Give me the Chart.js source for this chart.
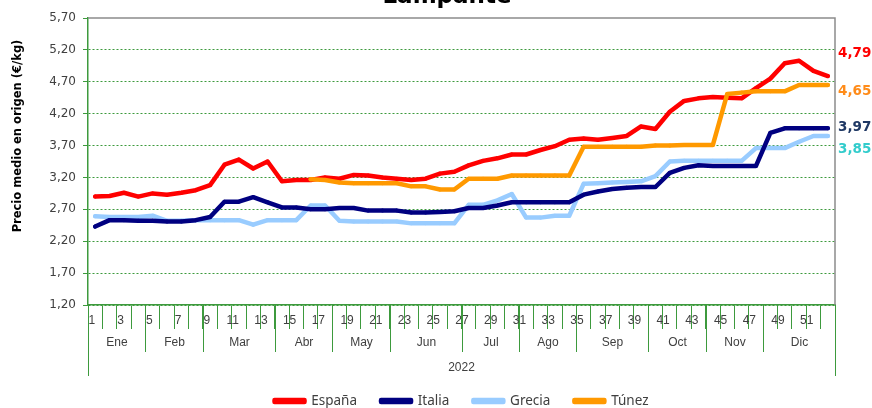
<!DOCTYPE html>
<html><head><meta charset="utf-8">
<script src="https://cdn.jsdelivr.net/npm/chart.js@4.4.1/dist/chart.umd.min.js"></script>
<style>html,body{margin:0;padding:0;background:#fff;overflow:hidden}#wrap{position:relative;width:872px;height:408px}</style>
</head><body><div id="wrap"><canvas id="c" width="872" height="408"></canvas></div>
<script>
const weeks = ['1','2','3','4','5','6','7','8','9','10','11','12','13','14','15','16','17','18','19','20','21','22','23','24','25','26','27','28','29','30','31','32','33','34','35','36','37','38','39','40','41','42','43','44','45','46','47','48','49','50','51','52'];
const months = ['Ene','Feb','Mar','Abr','May','Jun','Jul','Ago','Sep','Oct','Nov','Dic'];
const weeksPerMonth = [4,4,5,4,4,5,4,4,5,4,4,5];
const yearLabel = '2022';
const seriesNames = ['España','Italia','Grecia','Túnez'];
const espana = [2.90,2.91,2.96,2.90,2.95,2.93,2.96,3.00,3.08,3.40,3.48,3.34,3.45,3.14,3.16,3.16,3.20,3.18,3.24,3.23,3.20,3.18,3.16,3.18,3.26,3.29,3.39,3.46,3.50,3.56,3.56,3.63,3.69,3.79,3.81,3.79,3.82,3.85,4.00,3.96,4.23,4.40,4.44,4.46,4.45,4.44,4.60,4.75,4.99,5.03,4.87,4.79];
const italia = [2.43,2.53,2.53,2.52,2.52,2.51,2.51,2.53,2.58,2.82,2.82,2.89,2.81,2.73,2.73,2.70,2.70,2.72,2.72,2.68,2.68,2.68,2.65,2.65,2.66,2.67,2.72,2.72,2.76,2.81,2.81,2.81,2.81,2.81,2.93,2.98,3.02,3.04,3.05,3.05,3.27,3.35,3.39,3.38,3.38,3.38,3.38,3.90,3.97,3.97,3.97,3.97];
const grecia = [2.59,2.58,2.58,2.58,2.60,2.52,2.52,2.53,2.53,2.53,2.53,2.46,2.53,2.53,2.53,2.76,2.76,2.52,2.51,2.51,2.51,2.51,2.48,2.48,2.48,2.48,2.77,2.77,2.84,2.94,2.57,2.57,2.60,2.60,3.10,3.11,3.12,3.13,3.14,3.22,3.45,3.46,3.46,3.46,3.46,3.46,3.66,3.66,3.66,3.76,3.85,3.85];
const tunez = [null,null,null,null,null,null,null,null,null,null,null,null,null,null,null,3.17,3.16,3.12,3.11,3.11,3.11,3.11,3.06,3.06,3.01,3.01,3.18,3.18,3.18,3.23,3.23,3.23,3.23,3.23,3.68,3.68,3.68,3.68,3.68,3.70,3.70,3.71,3.71,3.71,4.51,4.53,4.55,4.55,4.55,4.65,4.65,4.65];
const yTicks = {min: 1.2, max: 5.7, step: 0.5};
// end-of-series value labels (text from last values; vertical slot in axis units)
const endLabelSeries = [espana, tunez, italia, grecia];
const endLabelSlots = [5.15, 4.55, 3.99, 3.64];
const endLabelColors = ['#FF0000', '#FF8C1A', '#1F3864', '#33CCCC'];

const colors = ['#FF0000', '#000080', '#99CCFF', '#FF9900'];
const fmt = v => v.toFixed(2).replace('.', ',');
const GREEN = '#3d9a3d';

const decor = {
  id: 'decor',
  afterLayout(chart) {
    const lg = chart.legend;
    const p = lg.options.labels.padding;
    const fs = lg.options.labels.font.size;
    const shift = 401 - (lg.top + p + fs / 2);
    lg.top += shift; lg.bottom += shift;
  },
  afterDraw(chart) {
    const {ctx, chartArea: ca, scales: {x, y}} = chart;
    ctx.save();
    // top/right frame
    ctx.strokeStyle = '#8c8c8c'; ctx.lineWidth = 1.5;
    ctx.beginPath(); ctx.moveTo(ca.left, ca.top); ctx.lineTo(ca.right, ca.top); ctx.lineTo(ca.right, ca.bottom); ctx.stroke();
    // multi-level category axis
    ctx.strokeStyle = GREEN; ctx.lineWidth = 1;
    ctx.fillStyle = '#404040';
    ctx.font = '12px "Liberation Sans"';
    ctx.textAlign = 'center'; ctx.textBaseline = 'middle';
    let start = 0;
    const bx = i => Math.round(x.getPixelForValue(i - 0.5)) + 0.5;
    ctx.beginPath(); ctx.moveTo(bx(0), ca.bottom); ctx.lineTo(bx(0), ca.bottom + 71); ctx.stroke();
    months.forEach((m, k) => {
      const end = start + weeksPerMonth[k];
      const x0 = bx(start), x1 = bx(end);
      ctx.beginPath(); ctx.moveTo(x1, ca.bottom); ctx.lineTo(x1, ca.bottom + (k === months.length - 1 ? 71 : 47)); ctx.stroke();
      ctx.fillText(m, (x0 + x1) / 2, ca.bottom + 38);
      start = end;
    });
    ctx.fillText(yearLabel, (ca.left + ca.right) / 2, ca.bottom + 63);
    // y axis title
    ctx.save();
    ctx.translate(18, 136); ctx.rotate(-Math.PI / 2);
    ctx.font = 'bold 11.5px "DejaVu Sans"'; ctx.fillStyle = '#000';
    ctx.fillText('Precio medio en origen (€/kg)', 0, 0);
    ctx.restore();
    // end labels
    ctx.font = 'bold 13.5px "DejaVu Sans"'; ctx.textAlign = 'left';
    endLabelSeries.forEach((s, i) => {
      ctx.fillStyle = endLabelColors[i];
      ctx.fillText(fmt(s[s.length - 1]), ca.right + 3, y.getPixelForValue(endLabelSlots[i]));
    });
    // title (cut at top)
    ctx.font = 'bold 23px "DejaVu Sans"'; ctx.fillStyle = '#000'; ctx.textAlign = 'center'; ctx.textBaseline = 'alphabetic';
    ctx.fillText('Lampante', 447, 3);
    ctx.restore();
  }
};

const data = [espana, italia, grecia, tunez];
const orders = [3, 1, 2, 0];
new Chart(document.getElementById('c'), {
  type: 'line',
  data: {
    labels: weeks,
    datasets: data.map((d, i) => ({
      label: seriesNames[i], data: d,
      borderColor: colors[i], backgroundColor: colors[i],
      borderWidth: 4.5, pointRadius: 2, pointBorderWidth: 0,
      pointBackgroundColor: colors[i], tension: 0, order: orders[i],
      borderCapStyle: 'round', borderJoinStyle: 'round', spanGaps: false
    }))
  },
  options: {
    responsive: false, animation: false, devicePixelRatio: 1,
    layout: {padding: {top: 18, right: 37, left: 0, bottom: 0}},
    plugins: {
      tooltip: {enabled: false},
      title: {display: false},
      legend: {
        position: 'bottom', fullSize: false,
        labels: {boxWidth: 30, boxHeight: 2, padding: 24, color: '#404040',
          font: {family: 'Noto Sans', size: 13.5},
          sort: (a, b) => a.datasetIndex - b.datasetIndex}
      }
    },
    scales: {
      x: {
        type: 'category', offset: true,
        grid: {offset: true, drawOnChartArea: false, tickLength: 24, color: GREEN, lineWidth: 1},
        border: {color: GREEN, width: 1.5},
        ticks: {autoSkip: false, maxRotation: 0, minRotation: 0, align: 'end', padding: -16,
          color: '#404040', font: {family: 'Liberation Sans', size: 12},
          callback: function(v, i) { return i % 2 === 0 ? this.getLabelForValue(v) : ''; }},
        afterFit: s => { s.height = 55.5; }
      },
      y: {
        min: yTicks.min, max: yTicks.max,
        ticks: {stepSize: yTicks.step, padding: 7, color: '#404040',
          font: {family: 'DejaVu Sans', size: 12}, callback: v => fmt(v)},
        grid: {color: c => (c.tick && c.tick.value >= yTicks.max - 1e-6) ? 'rgba(0,0,0,0)' : GREEN,
          tickColor: GREEN, tickLength: 5, lineWidth: 1},
        border: {color: GREEN, width: 1.5, dash: [2, 2]},
        afterFit: s => { s.width = 88; }
      }
    }
  },
  plugins: [decor]
});
</script></body></html>
